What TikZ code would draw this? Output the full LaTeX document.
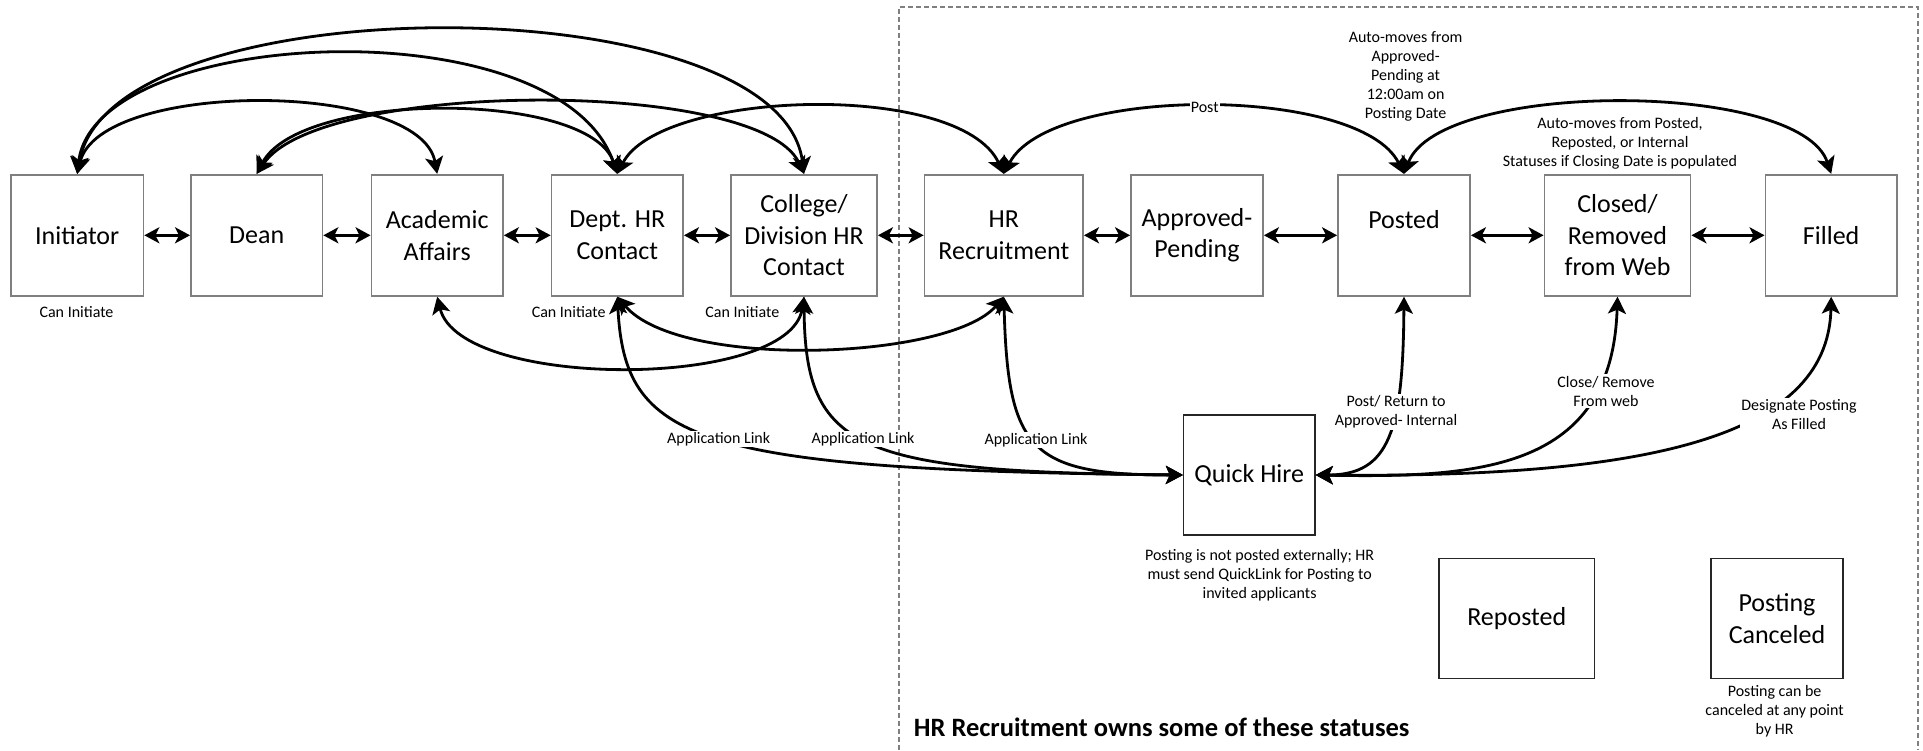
\documentclass[tikz,border=0pt]{standalone}
\usepackage{fontspec}
\setmainfont{Carlito}
\usetikzlibrary{arrows.meta}
\definecolor{boxgray}{HTML}{7F7F7F}
\definecolor{framegray}{HTML}{808080}
\begin{document}
\begin{tikzpicture}[x=1pt,y=-1pt,
  box/.style={draw=boxgray, line width=1.8pt, minimum height=121pt, align=center, inner sep=2pt, font=\fontsize{26}{31.7}\selectfont},
  qbox/.style={box, draw=black!85, line width=1.3pt, minimum height=120pt},
  lbl/.style={font=\fontsize{16}{19}\selectfont, align=center, inner sep=1.5pt},
  wl/.style={lbl, fill=white},
  tip/.tip={Stealth[length=15pt,width=16pt,inset=4pt]},
  bigtip/.tip={Stealth[length=17pt,width=18pt,inset=4pt]},
  con/.style={line width=2.8pt, tip-tip},
  ccon/.style={line width=2.8pt, bigtip-bigtip}]
\useasboundingbox (0,0) rectangle (1923,750);
% frame
\draw[framegray, line width=1.1pt, dash pattern=on 5pt off 3pt] (899,750) -- (899,7) -- (1918,7) -- (1918,750);
% boxes
\node[box, minimum width=132.5pt] (init) at (77.2,235.3) {Initiator};
\node[box, minimum width=131.5pt] (dean) at (256.7,235.3) {Dean};
\node[box, minimum width=131.5pt] (acad) at (437.2,235.3) {Academic\\Affairs};
\node[box, minimum width=131.5pt] (dept) at (617.3,235.3) {Dept. HR\\Contact};
\node[box, minimum width=146pt] (coll) at (804,235.3) {College/\\Division HR\\Contact};
\node[box, minimum width=158.5pt] (hrr) at (1003.8,235.3) {HR\\Recruitment};
\node[box, minimum width=132pt] (appr) at (1197,235.3) {Approved-\\Pending};
\node[box, minimum width=132pt] (post) at (1404,235.3) {Posted\\~};
\node[box, minimum width=146pt] (clos) at (1617.5,235.3) {Closed/\\Removed\\from Web};
\node[box, minimum width=131.5pt] (filled) at (1831.2,235.3) {Filled};
\node[qbox, minimum width=131.5pt] (qh) at (1249.3,475) {Quick Hire};
\node[qbox, minimum width=155.5pt] (repo) at (1516.7,618.7) {Reposted};
\node[qbox, minimum width=132pt] (canc) at (1777,618.7) {Posting\\Canceled};
% horizontal connectors
\foreach \a/\b in {init/dean, dean/acad, acad/dept, dept/coll, coll/hrr, hrr/appr, appr/post, post/clos, clos/filled}
  \draw[con] (\a.east) -- (\b.west);
% top curves
\draw[ccon] (init.north) .. controls (110,-17) and (780,-17) .. (coll.north);
\draw[ccon] (init.north) .. controls (95,25) and (560,5) .. (dept.north);
\draw[ccon] (init.north) .. controls (100,80) and (420,80) .. (acad.north);
\draw[ccon] (dean.north) .. controls (300,90) and (590,90) .. (dept.north);
\draw[ccon] (dean.north) .. controls (320,80) and (760,78) .. (coll.north);
\draw[ccon] (dept.north) .. controls (660,90) and (960,80) .. (hrr.north);
\draw[ccon] (hrr.north) .. controls (1050,85) and (1360,85) .. node[wl, pos=0.5, inner sep=1pt] (postl) {Post} (post.north);
\draw[ccon] (post.north) .. controls (1440,80) and (1800,80) .. (filled.north);
% bottom curves
\draw[ccon] (acad.south) .. controls (460,390) and (790,390) .. (coll.south);
\draw[ccon] (dept.south) .. controls (680,370) and (950,360) .. (hrr.south);
\draw[ccon] (dept.south) .. controls (625,440) and (690,470) .. (qh.west);
\draw[ccon] (coll.south) .. controls (805,450) and (855,472) .. (qh.west);
\draw[ccon] (hrr.south) .. controls (1008,450) and (1030,475) .. (qh.west);
\draw[ccon] (post.south) .. controls (1403,430) and (1390,475) .. (qh.east);
\draw[ccon] (clos.south) .. controls (1612,470) and (1480,478) .. (qh.east);
\draw[ccon] (filled.south) .. controls (1828,440) and (1640,478) .. (qh.east);
% labels on connectors
\node[wl] (al1) at (718.7,439) {Application Link};
\node[wl] (al2) at (863,439) {Application Link};
\node[wl] (al3) at (1036,440) {Application Link};
\node[wl] (prl) at (1396,412) {Post/ Return to\\Approved- Internal};
\node[wl] (crl) at (1606,391) {Close/ Remove\\From web};
\node[wl] (dpl) at (1799,415) {Designate Posting\\As Filled};
% other texts
\node[lbl] (ci1) at (76.5,311.7) {Can Initiate};
\node[lbl] (ci2) at (568.7,311.7) {Can Initiate};
\node[lbl] (ci3) at (742.3,311.7) {Can Initiate};
\node[lbl] (am1) at (1405.6,76) {Auto-moves from\\Approved-\\Pending at\\12:00am on\\Posting Date};
\node[lbl] (am2) at (1620,143.5) {Auto-moves from Posted,\\Reposted, or Internal\\Statuses if Closing Date is populated};
\node[lbl] (qhn) at (1259.6,575.4) {Posting is not posted externally; HR\\must send QuickLink for Posting to\\invited applicants};
\node[lbl] (cann) at (1774.6,711) {Posting can be\\canceled at any point\\by HR};
\node[anchor=west, inner sep=0pt, font=\bfseries\fontsize{26.5}{32}\selectfont] (title) at (913.7,727) {HR Recruitment owns some of these statuses};
\end{tikzpicture}
\end{document}
